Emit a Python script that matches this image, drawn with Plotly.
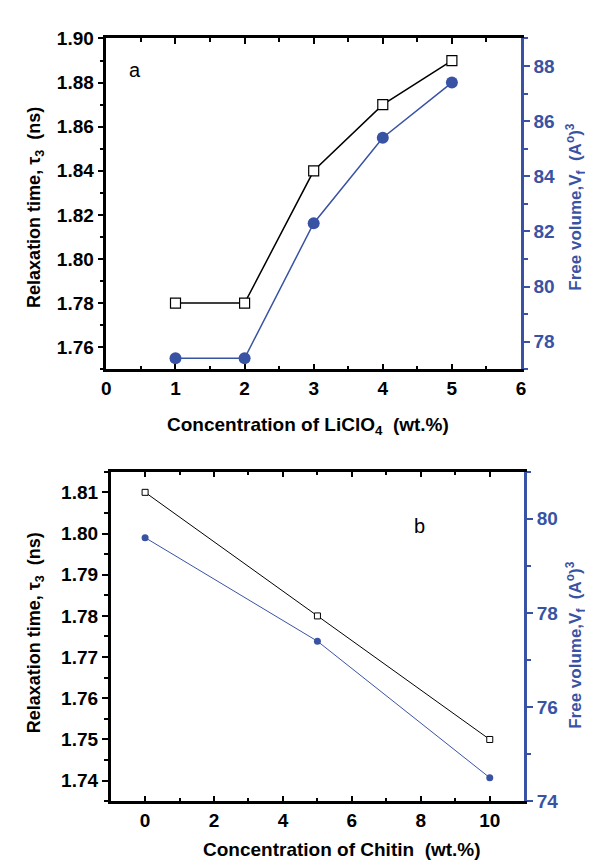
import plotly.graph_objects as go

# Panel a data
conc_licl = [1, 2, 3, 4, 5]
tau_a = [1.78, 1.78, 1.84, 1.87, 1.89]
vf_a = [77.4, 77.4, 82.3, 85.4, 87.4]

# Panel b data
conc_chitin = [0, 5, 10]
tau_b = [1.81, 1.78, 1.75]
vf_b = [79.6, 77.4, 74.5]

BLUE = "#3953A4"
FONT = "Liberation Sans"
W, H = 593, 867

fig = go.Figure()

fig.add_trace(go.Scatter(x=conc_licl, y=tau_a, mode="lines+markers", xaxis="x", yaxis="y",
                         line=dict(color="black", width=1.5),
                         marker=dict(symbol="square", size=10, color="white", line=dict(color="black", width=1.2))))
fig.add_trace(go.Scatter(x=conc_licl, y=vf_a, mode="lines+markers", xaxis="x", yaxis="y2",
                         line=dict(color=BLUE, width=1.5),
                         marker=dict(symbol="circle", size=12, color=BLUE)))
fig.add_trace(go.Scatter(x=conc_chitin, y=tau_b, mode="lines+markers", xaxis="x2", yaxis="y3",
                         line=dict(color="black", width=1),
                         marker=dict(symbol="square", size=6, color="white", line=dict(color="black", width=1))))
fig.add_trace(go.Scatter(x=conc_chitin, y=vf_b, mode="lines+markers", xaxis="x2", yaxis="y4",
                         line=dict(color=BLUE, width=1),
                         marker=dict(symbol="circle", size=7, color=BLUE)))

tickfont = dict(family=FONT, size=19, color="black", weight="bold")
tickfont_b = dict(family=FONT, size=19, color=BLUE, weight="bold")

def xax(domain, anchor, rng, dtick, minor):
    return dict(domain=domain, anchor=anchor, range=rng, dtick=dtick, tick0=0,
                showline=True, linecolor="black", linewidth=2.5, mirror="ticks",
                ticks="inside", ticklen=6, tickwidth=2, tickcolor="black",
                minor=dict(dtick=minor, ticks="inside", ticklen=4, tickwidth=2, tickcolor="black"),
                showgrid=False, zeroline=False, tickfont=tickfont)

def yax(domain, anchor, rng, dtick, minor, fmt):
    return dict(domain=domain, anchor=anchor, range=rng, dtick=dtick, tick0=0, tickformat=fmt,
                showline=True, linecolor="black", linewidth=2.5,
                ticks="outside", ticklen=6, tickwidth=2, tickcolor="black",
                minor=dict(dtick=minor, ticks="outside", ticklen=4, tickwidth=2, tickcolor="black"),
                showgrid=False, zeroline=False, tickfont=tickfont)

def y2ax(over, anchor, rng, dtick, minor):
    return dict(overlaying=over, anchor=anchor, side="right", range=rng, dtick=dtick, tick0=0,
                showline=True, linecolor=BLUE, linewidth=2.5,
                ticks="outside", ticklen=6, tickwidth=2, tickcolor=BLUE,
                minor=dict(dtick=minor, ticks="outside", ticklen=4, tickwidth=2, tickcolor=BLUE),
                showgrid=False, zeroline=False, tickfont=tickfont_b)

da_x = [95 / W, 516.7 / W]
da_y = [1 - 360 / H, 1 - 21 / H]
db_x = [99.3 / W, 520 / W]
db_y = [1 - 802.7 / H, 1 - 465 / H]

fig.update_layout(
    width=W, height=H, margin=dict(l=0, r=0, t=0, b=0),
    paper_bgcolor="white", plot_bgcolor="white", showlegend=False,
    xaxis=xax(da_x, "y", [0, 6], 1, 0.5),
    yaxis=yax(da_y, "x", [1.75, 1.90], 0.02, 0.01, ".2f"),
    yaxis2=y2ax("y", "x", [77, 89], 2, 1),
    xaxis2=xax(db_x, "y3", [-1, 11], 2, 1),
    yaxis3=yax(db_y, "x2", [1.735, 1.815], 0.01, 0.005, ".2f"),
    yaxis4=y2ax("y3", "x2", [74, 81], 2, 1),
)

tfy = dict(family=FONT, size=18, color="black")
tfx = dict(family=FONT, size=19, color="black")
tfb = dict(family=FONT, size=17, color=BLUE)
def ann(text, x, y, font, angle=0):
    fig.add_annotation(text=text, x=x / W, y=1 - y / H, xref="paper", yref="paper",
                       showarrow=False, textangle=angle, font=font, xanchor="center", yanchor="middle")

ann("<b>Relaxation time, τ<sub>3</sub>  (ns)</b>", 23, 194, tfy, -90)
ann("<b>Free volume,V<sub>f</sub>  (A<sup>o</sup>)<sup>3</sup></b>", 572, 193, tfb, -90)
ann("<b>Concentration of LiClO<sub>4</sub>  (wt.%)</b>", 300, 418, tfx)
ann("<b>Relaxation time, τ<sub>3</sub>  (ns)</b>", 23, 630, tfy, -90)
ann("<b>Free volume,V<sub>f</sub>  (A<sup>o</sup>)<sup>3</sup></b>", 572, 642, tfb, -90)
ann("<b>Concentration of Chitin  (wt.%)</b>", 335, 852, tfx)
ann("a", 124, 53, dict(family=FONT, size=20, color="black"))
ann("b", 413, 521, dict(family=FONT, size=20, color="black"))

fig.write_html("out.html")
